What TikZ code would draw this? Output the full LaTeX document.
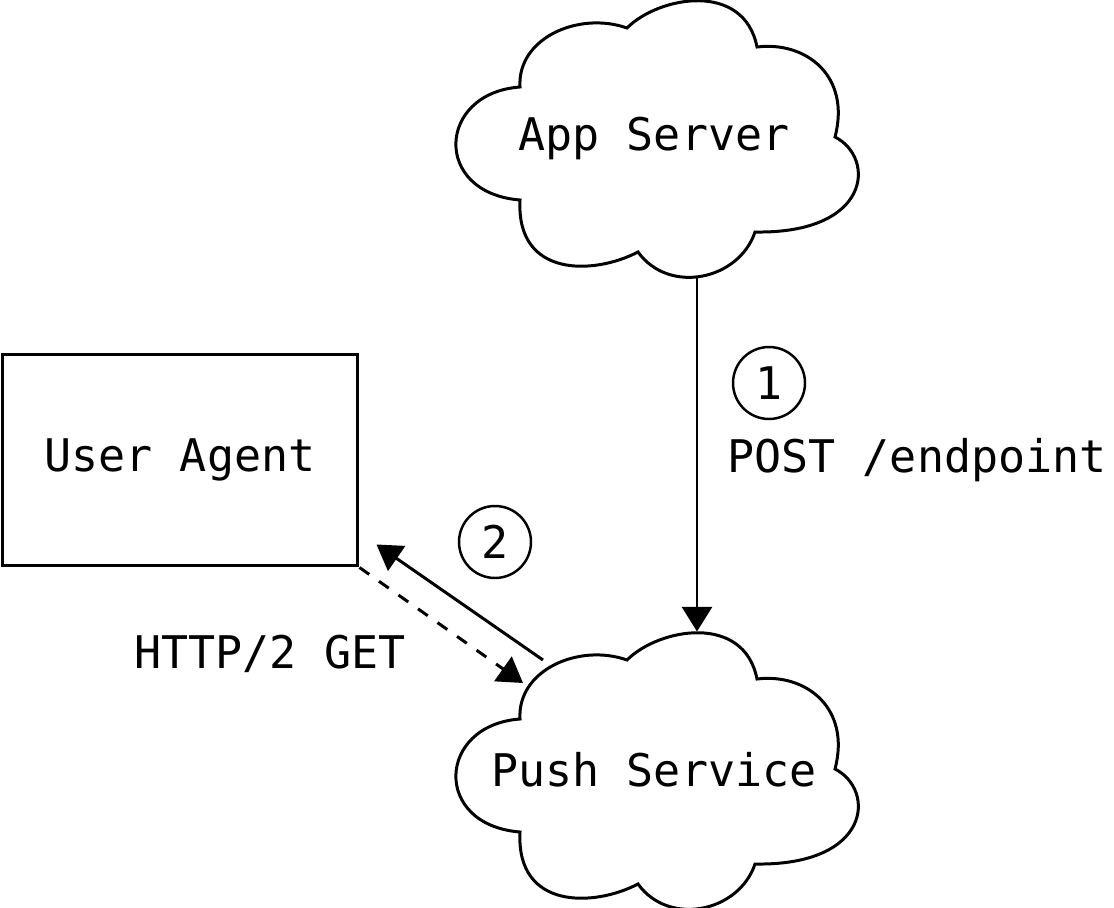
\documentclass[tikz,border=0pt]{standalone}
\usepackage{fontspec}
\setmonofont{DejaVu Sans Mono}
\usetikzlibrary{arrows.meta,calc}

\tikzset{
  cloudline/.pic={
    \draw[-] (-134,51) .. controls (-137,100) and (-75,127) .. (-27,110)
      .. controls (5,142) and (90,157) .. (103,91)
      .. controls (152,97) and (197,62) .. (181,1)
      .. controls (222,-20) and (217,-96) .. (101,-94)
      .. controls (85,-142) and (15,-157) .. (-16,-114)
      .. controls (-60,-137) and (-138,-140) .. (-134,-62)
      .. controls (-222,-55) and (-217,45) .. (-134,51) -- cycle;
  },
  cloudnode/.style={minimum width=7.96cm,minimum height=5.48cm,inner sep=0pt},
  agentbox/.style={draw,minimum width=7.12cm,minimum height=4.24cm,inner sep=0pt},
  numcircle/.style={draw,circle,minimum size=1.44cm,inner sep=0pt,line width=1.4pt},
  lbl/.style={anchor=base west,inner sep=0pt}
}

\begin{document}
\begin{tikzpicture}[x=0.02cm,y=0.02cm,line width=1.7pt,
    >={Triangle[length=14pt,width=17pt]},
    every node/.style={font=\ttfamily\fontsize{25.6}{30}\selectfont}]
   \useasboundingbox (0,0) rectangle (1114,907);

   \node[cloudnode] (app) at (654,769) {App Server};
   \node[cloudnode] (push) at (654,137) {Push Service};
   \node[agentbox] (ua) at (180,447) {User Agent};

   \pic at (app.center) {cloudline};
   \pic at (push.center) {cloudline};

   \node[numcircle] (n1) at (769,524) {1};
   \node[numcircle] (n2) at (495,365) {2};

   \node[lbl] (post) at (726,435) {POST /endpoint};
   \node[lbl] (get) at (133,239) {HTTP/2 GET};

   % step 1: app server posts to the push service
   \draw[->] ([xshift=0.86cm]app.south) -- ([xshift=0.86cm]push.north);
   % step 2: long-lived GET and the push back to the agent
   \draw[->,dash pattern=on 6.8pt off 6.8pt] (ua.south east) -- ($(push.center)+(-131,87)$);
   \draw[->] ($(push.center)+(-111,110)$) -- ($(ua.south east)+(17,23)$);

\end{tikzpicture}
\end{document}
